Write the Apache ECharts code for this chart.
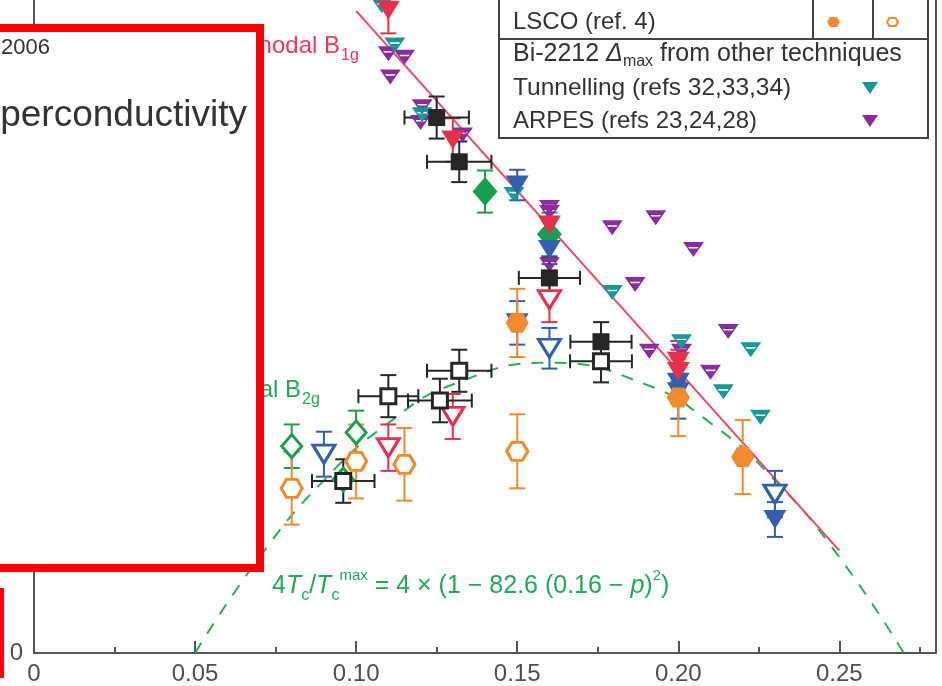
<!DOCTYPE html>
<html>
<head>
<meta charset="utf-8">
<script src="https://cdn.jsdelivr.net/npm/echarts@6/dist/echarts.min.js"></script>
<style>
  html, body { margin: 0; padding: 0; background: #fff; }
  #chart { width: 942px; height: 686px; }
</style>
</head>
<body>
<div id="chart"></div>
<script>
// rows: [doping p, value, x error, y error]
const blackFilledSquares = [
  [0.125, 7.38, 0.010, 0.29],
  [0.132, 6.77, 0.010, 0.28],
  [0.160, 5.17, 0.0095, 0.28],
  [0.176, 4.29, 0.0095, 0.27]
]
const blackOpenSquares = [
  [0.096, 2.37, 0.0097, 0.30],
  [0.110, 3.54, 0.0093, 0.29],
  [0.126, 3.48, 0.0099, 0.30],
  [0.132, 3.89, 0.0100, 0.29],
  [0.176, 4.02, 0.0096, 0.29]
]
const redFilledTriangles = [
  [0.110, 8.86, 0, 0.32],
  [0.130, 7.07, 0, 0.30],
  [0.160, 5.90, 0, 0.25],
  [0.200, 4.02, 0, 0.28],
  [0.200, 3.88, 0, 0.30]
]
const redOpenTriangles = [
  [0.110, 2.83, 0, 0.32],
  [0.130, 3.26, 0, 0.31],
  [0.160, 4.87, 0, 0.31]
]
const blueFilledTriangles = [
  [0.150, 6.45, 0, 0.21],
  [0.150, 4.55, 0, 0.30],
  [0.160, 5.56, 0, 0.20],
  [0.200, 3.73, 0, 0.25],
  [0.200, 3.60, 0, 0.37],
  [0.230, 1.84, 0, 0.24]
]
const blueOpenTriangles = [
  [0.090, 2.74, 0, 0.31],
  [0.160, 4.20, 0, 0.28],
  [0.230, 2.19, 0, 0.32]
]
const greenFilledDiamonds = [
  [0.140, 6.36, 0, 0.29],
  [0.160, 5.77, 0, 0.30]
]
const greenOpenDiamonds = [
  [0.080, 2.85, 0, 0.30],
  [0.096, 2.39, 0, 0],
  [0.100, 3.04, 0, 0.30]
]
const orangeFilledHexagons = [
  [0.150, 4.55, 0, 0.47],
  [0.200, 3.52, 0, 0.53],
  [0.220, 2.70, 0, 0.51]
]
const orangeOpenHexagons = [
  [0.080, 2.27, 0, 0.50],
  [0.100, 2.64, 0, 0.51],
  [0.115, 2.60, 0, 0.50],
  [0.150, 2.78, 0, 0.51]
]
const tunnellingPoints = [
  [0.108, 8.92], [0.112, 8.38], [0.1205, 7.42], [0.149, 6.32], [0.1795, 4.97],
  [0.201, 4.29], [0.214, 3.60], [0.2225, 4.18], [0.2255, 3.25]
]
const arpesPoints = [
  [0.110, 8.26], [0.115, 8.21], [0.1106, 7.94], [0.1205, 7.53], [0.120, 7.31], [0.133, 7.14],
  [0.160, 6.14], [0.160, 6.07], [0.160, 5.35], [0.1795, 5.86], [0.193, 6.00], [0.2047, 5.56],
  [0.1866, 5.08], [0.191, 4.16], [0.201, 4.16], [0.210, 3.87], [0.2155, 4.43]
]
// nodal B1g line and the Tc dome
const nodalP = [0.10, 0.25]
const nodalV = [8.85, 1.41]
const domeP = [0.05, 0.07, 0.09, 0.11, 0.13, 0.16, 0.19, 0.21, 0.23, 0.25, 0.27]
const domeV = [0.0, 1.32, 2.38, 3.17, 3.70, 4.0, 3.70, 3.17, 2.38, 1.32, 0.0]

const FONT = '"Liberation Sans", Arial, sans-serif'
const C = {
  black: '#262626',
  red: '#e8304d',
  blue: '#2f5fae',
  green: '#18a050',
  orange: '#f28a2e',
  teal: '#119a9a',
  purple: '#8a2c9f'
}
const TRI = 'path://M0,0L20,0L10,17Z'
const SMALL_TRI = 'path://M0,0L20,0L10,14Z M5,4.5L6,6L14,6L15,4.5Z'
const HEX = 'path://M0,8L5,0L15,0L20,8L15,16L5,16Z'

function zip(xs, ys) {
  return xs.map((x, i) => [x, ys[i]])
}

function errorSeries(data, color) {
  return {
    type: 'custom',
    z: 3,
    data: data,
    encode: { x: 0, y: 1 },
    renderItem(params, api) {
      const p = api.value(0)
      const v = api.value(1)
      const ex = api.value(2)
      const ey = api.value(3)
      const style = { stroke: color, lineWidth: 2 }
      const kids = []
      if (ey > 0) {
        const a = api.coord([p, v + ey])
        const b = api.coord([p, v - ey])
        kids.push({ type: 'line', shape: { x1: a[0], y1: a[1], x2: b[0], y2: b[1] }, style })
        kids.push({ type: 'line', shape: { x1: a[0] - 8, y1: a[1], x2: a[0] + 8, y2: a[1] }, style })
        kids.push({ type: 'line', shape: { x1: b[0] - 8, y1: b[1], x2: b[0] + 8, y2: b[1] }, style })
      }
      if (ex > 0) {
        const a = api.coord([p - ex, v])
        const b = api.coord([p + ex, v])
        kids.push({ type: 'line', shape: { x1: a[0], y1: a[1], x2: b[0], y2: b[1] }, style })
        kids.push({ type: 'line', shape: { x1: a[0], y1: a[1] - 7, x2: a[0], y2: a[1] + 7 }, style })
        kids.push({ type: 'line', shape: { x1: b[0], y1: b[1] - 7, x2: b[0], y2: b[1] + 7 }, style })
      }
      return { type: 'group', children: kids }
    }
  }
}

function markers(data, symbol, size, color, open) {
  return {
    type: 'scatter',
    z: 4,
    data: data.map(d => [d[0], d[1]]),
    symbol: symbol,
    symbolSize: size,
    itemStyle: open
      ? { color: '#fff', borderColor: color, borderWidth: 3, opacity: 1 }
      : { color: color, opacity: 1 }
  }
}

const chart = echarts.init(document.getElementById('chart'))

const legendItems = [
  { text: 'LSCO (ref. 4)', y: 22, size: 24 },
  { text: 'Tunnelling (refs 32,33,34)', y: 88, size: 24.5 },
  { text: 'ARPES (refs 23,24,28)', y: 121, size: 24 }
]

chart.setOption({
  backgroundColor: '#fff',
  animation: false,
  grid: { left: 34, right: 6, top: 0, bottom: 32 },
  xAxis: {
    type: 'value',
    min: 0,
    max: 0.28,
    interval: 0.05,
    axisLine: { lineStyle: { color: '#555', width: 2 } },
    axisTick: { inside: true, length: 12, lineStyle: { color: '#555', width: 2 } },
    minorTick: { show: true, splitNumber: 2, length: 6, lineStyle: { color: '#555', width: 2 } },
    splitLine: { show: false },
    axisLabel: {
      color: '#505050',
      fontSize: 24,
      fontFamily: FONT,
      margin: 9,
      showMaxLabel: false,
      formatter: v => (v === 0 ? '0' : v.toFixed(2))
    }
  },
  yAxis: [
    {
      type: 'value',
      min: 0,
      max: 9,
      interval: 3,
      axisLine: { show: true, lineStyle: { color: '#555', width: 2 } },
      axisTick: { show: false },
      splitLine: { show: false },
      axisLabel: {
        color: '#505050',
        fontSize: 24,
        fontFamily: FONT,
        margin: 11,
        formatter: v => (v === 0 ? '0' : '')
      }
    },
    {
      type: 'value',
      position: 'right',
      min: 0,
      max: 9,
      axisLine: { show: true, lineStyle: { color: '#555', width: 2 } },
      axisTick: { show: false },
      axisLabel: { show: false },
      splitLine: { show: false }
    }
  ],
  series: [
    {
      type: 'line',
      z: 1,
      data: zip(domeP, domeV),
      smooth: 0.5,
      symbol: 'none',
      lineStyle: { color: '#2aae5c', width: 2, type: [12, 11] }
    },
    {
      type: 'line',
      z: 2,
      data: zip(nodalP, nodalV),
      symbol: 'none',
      lineStyle: { color: '#f04866', width: 2 }
    },
    markers(arpesPoints, SMALL_TRI, [21, 15], C.purple, false),
    markers(tunnellingPoints, SMALL_TRI, [21, 15], C.teal, false),
    errorSeries(greenOpenDiamonds, C.green),
    markers(greenOpenDiamonds, 'diamond', [20, 23], C.green, true),
    errorSeries(greenFilledDiamonds, C.green),
    markers(greenFilledDiamonds, 'diamond', [25, 29], C.green, false),
    errorSeries(blueOpenTriangles, C.blue),
    markers(blueOpenTriangles, TRI, [22, 18], C.blue, true),
    errorSeries(blueFilledTriangles, C.blue),
    markers(blueFilledTriangles, TRI, [23, 19], C.blue, false),
    errorSeries(orangeOpenHexagons, C.orange),
    markers(orangeOpenHexagons, HEX, [21, 18], C.orange, true),
    errorSeries(orangeFilledHexagons, C.orange),
    markers(orangeFilledHexagons, HEX, [23, 20], C.orange, false),
    errorSeries(redOpenTriangles, C.red),
    markers(redOpenTriangles, TRI, [22, 18], C.red, true),
    errorSeries(redFilledTriangles, C.red),
    markers(redFilledTriangles, TRI, [23, 19], C.red, false),
    errorSeries(blackOpenSquares, C.black),
    markers(blackOpenSquares, 'rect', 15, C.black, true),
    errorSeries(blackFilledSquares, C.black),
    markers(blackFilledSquares, 'rect', 17, C.black, false)
  ],
  graphic: {
    elements: [
      // curve labels
      {
        type: 'text', z: 50, x: 340, y: 46,
        style: { text: 'nodal B', font: '24px ' + FONT, fill: '#ee3a58', align: 'right', verticalAlign: 'middle' }
      },
      {
        type: 'text', z: 50, x: 341, y: 56,
        style: { text: '1g', font: '16px ' + FONT, fill: '#ee3a58', align: 'left', verticalAlign: 'middle' }
      },
      {
        type: 'text', z: 50, x: 301, y: 390,
        style: { text: 'nodal B', font: '24px ' + FONT, fill: '#22a858', align: 'right', verticalAlign: 'middle' }
      },
      {
        type: 'text', z: 50, x: 302, y: 400,
        style: { text: '2g', font: '16px ' + FONT, fill: '#22a858', align: 'left', verticalAlign: 'middle' }
      },
      {
        type: 'text', z: 50, x: 272, y: 586,
        style: {
          text: '{n|4}{i|T}{s|c}{n|/}{i|T}{s|c}{u|max}{n| = 4 × (1 − 82.6 (0.16 − }{i|p}{n|)}{u|2}{n|)}',
          align: 'left',
          verticalAlign: 'middle',
          rich: {
            n: { fontSize: 25, lineHeight: 36, fontFamily: FONT, fill: '#22a858' },
            i: { fontSize: 25, lineHeight: 36, fontStyle: 'italic', fontFamily: FONT, fill: '#22a858' },
            s: { fontSize: 16, lineHeight: 16, verticalAlign: 'bottom', fontFamily: FONT, fill: '#22a858' },
            u: { fontSize: 15, lineHeight: 15, verticalAlign: 'top', fontFamily: FONT, fill: '#22a858' }
          }
        }
      },
      // red highlight box laid over the figure
      {
        type: 'rect', z: 100,
        shape: { x: -20, y: 28, width: 280, height: 540 },
        style: { fill: '#fff', stroke: '#ff0000', lineWidth: 8 }
      },
      {
        type: 'text', z: 101, x: 50, y: 48,
        style: { text: '2006', font: '22px ' + FONT, fill: '#333', align: 'right', verticalAlign: 'middle' }
      },
      {
        type: 'text', z: 101, x: 247, y: 116,
        style: { text: 'perconductivity', font: '37px ' + FONT, fill: '#333', align: 'right', verticalAlign: 'middle' }
      },
      {
        type: 'rect', z: 100,
        shape: { x: 0, y: 588, width: 4, height: 90 },
        style: { fill: '#ff0000' }
      },
      // legend box
      {
        type: 'rect', z: 90,
        shape: { x: 499, y: -10, width: 429, height: 148 },
        style: { fill: '#fff', stroke: '#444', lineWidth: 2 }
      },
      { type: 'line', z: 91, shape: { x1: 499, y1: 39, x2: 928, y2: 39 }, style: { stroke: '#444', lineWidth: 2 } },
      { type: 'line', z: 91, shape: { x1: 813, y1: -10, x2: 813, y2: 39 }, style: { stroke: '#444', lineWidth: 2 } },
      { type: 'line', z: 91, shape: { x1: 873, y1: -10, x2: 873, y2: 39 }, style: { stroke: '#444', lineWidth: 2 } },
      ...legendItems.map(it => ({
        type: 'text', z: 91, x: 513, y: it.y,
        style: { text: it.text, font: it.size + 'px ' + FONT, fill: '#333', align: 'left', verticalAlign: 'middle' }
      })),
      {
        type: 'text', z: 91, x: 513, y: 54,
        style: {
          text: '{n|Bi-2212 }{i|Δ}{s|max}{n| from other techniques}',
          align: 'left',
          verticalAlign: 'middle',
          rich: {
            n: { fontSize: 25, lineHeight: 32, fontFamily: FONT, fill: '#333' },
            i: { fontSize: 25, lineHeight: 32, fontStyle: 'italic', fontFamily: FONT, fill: '#333' },
            s: { fontSize: 16, lineHeight: 16, verticalAlign: 'bottom', fontFamily: FONT, fill: '#333' }
          }
        }
      },
      {
        type: 'polygon', z: 92,
        shape: { points: [[827, 22], [830, 17], [837, 17], [840, 22], [837, 27], [830, 27]] },
        style: { fill: C.orange }
      },
      {
        type: 'polygon', z: 92,
        shape: { points: [[887, 22], [889.5, 18], [895.5, 18], [898, 22], [895.5, 26], [889.5, 26]] },
        style: { fill: '#fff', stroke: C.orange, lineWidth: 2 }
      },
      {
        type: 'polygon', z: 92,
        shape: { points: [[862, 82], [878, 82], [870, 94]] },
        style: { fill: C.teal }
      },
      {
        type: 'polygon', z: 92,
        shape: { points: [[862, 115], [878, 115], [870, 127]] },
        style: { fill: C.purple }
      }
    ]
  }
})
</script>
</body>
</html>
